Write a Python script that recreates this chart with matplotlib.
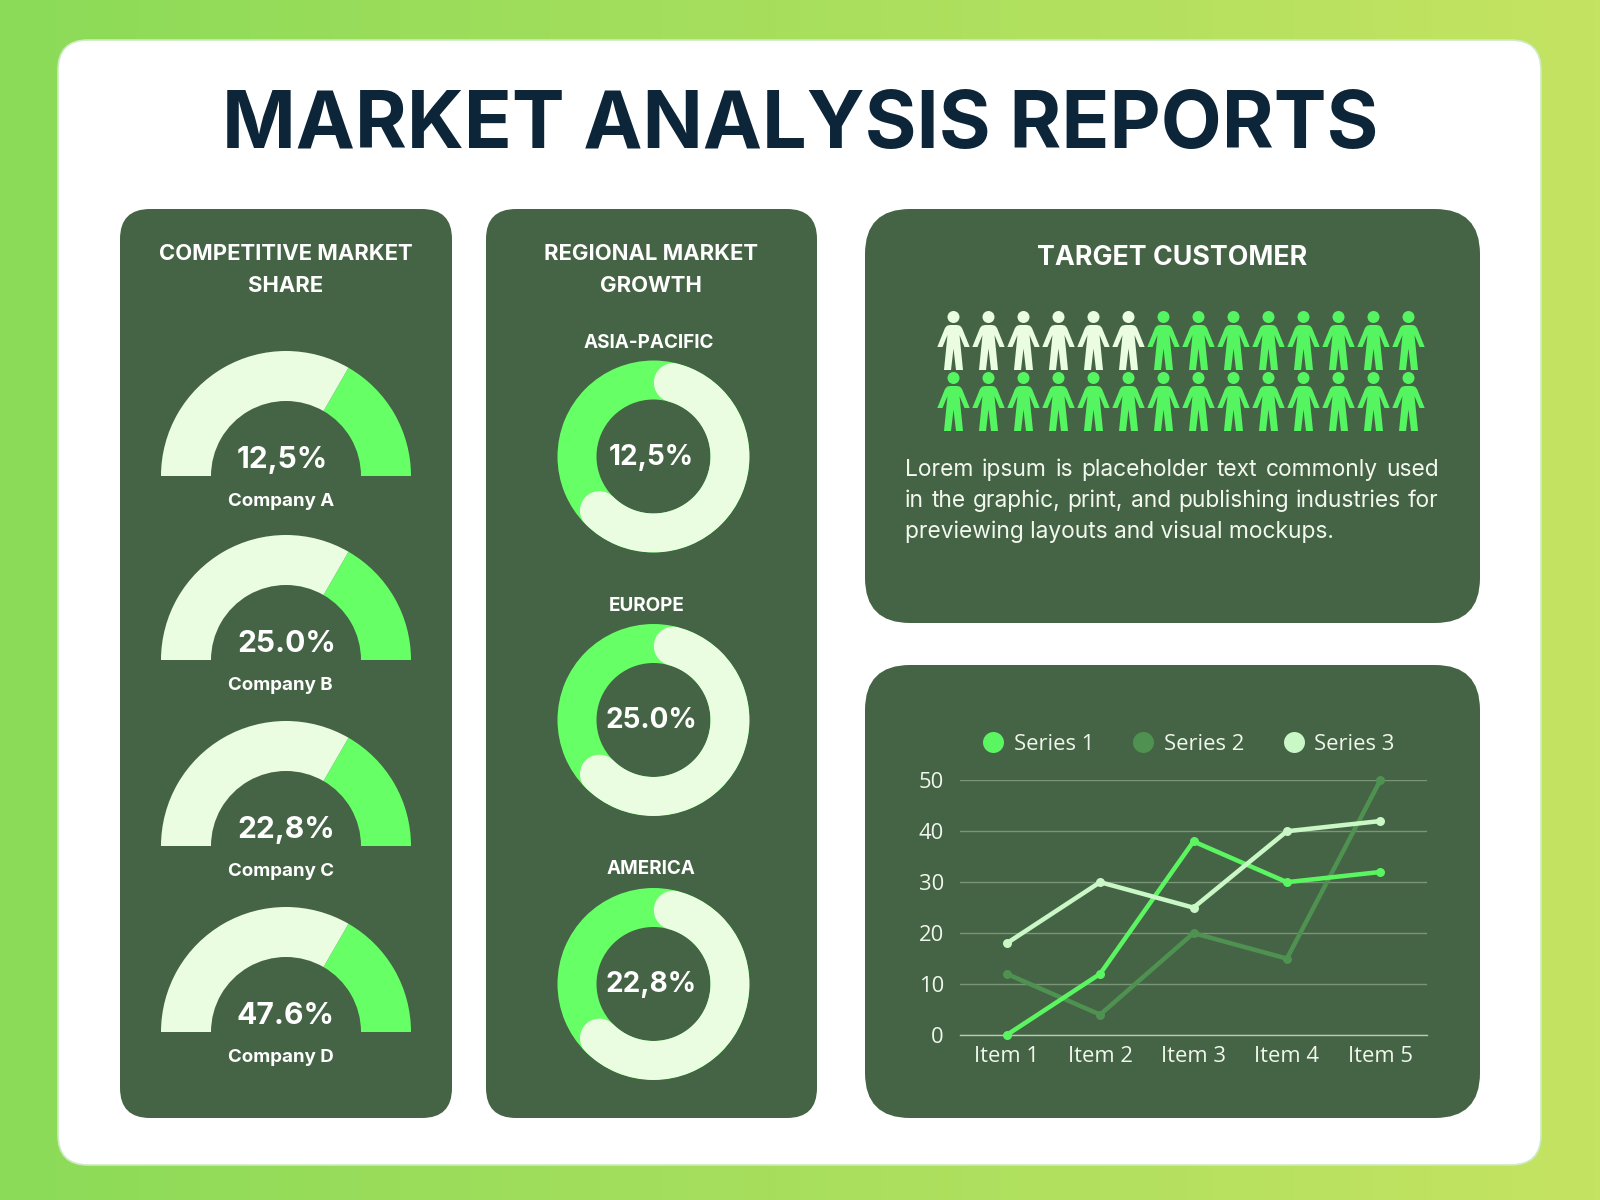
import numpy as np
import matplotlib
matplotlib.use("Agg")
import matplotlib.pyplot as plt
from matplotlib.patches import FancyBboxPatch
from matplotlib.path import Path
from matplotlib.lines import Line2D

W, H = 1600, 1200
DPI = 100

# ---- data ----
title = "MARKET ANALYSIS REPORTS"
gauge_title = "COMPETITIVE MARKET\nSHARE"
gauge_names = ["Company A", "Company B", "Company C", "Company D"]
gauge_labels = ["12,5%", "25.0%", "22,8%", "47.6%"]
gauge_green = [60, 60, 60, 60]
gauge_light = [120, 120, 120, 120]
donut_title = "REGIONAL MARKET\nGROWTH"
donut_names = ["ASIA-PACIFIC", "EUROPE", "AMERICA"]
donut_labels = ["12,5%", "25.0%", "22,8%"]
donut_light_deg = [210, 210, 210]
target_title = "TARGET CUSTOMER"
people_total = 28
people_light = 6
lorem = ["Lorem ipsum is placeholder text commonly used",
         "in the graphic, print, and publishing industries for",
         "previewing layouts and visual mockups."]
items = ["Item 1", "Item 2", "Item 3", "Item 4", "Item 5"]
series1 = [0, 12, 38, 30, 32]
series2 = [12, 4, 20, 15, 50]
series3 = [18, 30, 25, 40, 42]
series_names = ["Series 1", "Series 2", "Series 3"]
y_ticks = [0, 10, 20, 30, 40, 50]

# ---- styles ----
DARK = "#456345"
GREEN = "#66FF66"
LIGHT = "#EAFDE1"
C1, C2, C3 = "#5CF562", "#4F9150", "#C9F7C6"
NAVY = "#0D2538"
FONT = "Inter"

def px(v):
    return v * 72 / DPI

fig = plt.figure(figsize=(W / DPI, H / DPI), dpi=DPI)

def pxaxes(x0, y0, x1, y1, **kw):
    return fig.add_axes([x0 / W, 1 - y1 / H, (x1 - x0) / W, (y1 - y0) / H], **kw)

bg = pxaxes(0, 0, W, H)
bg.set_xlim(0, W); bg.set_ylim(H, 0); bg.axis("off")
c0 = np.array(matplotlib.colors.to_rgb("#8BDB58"))
c1 = np.array(matplotlib.colors.to_rgb("#C5E362"))
t = np.linspace(0, 1, 256)[None, :, None]
bg.imshow(c0 + (c1 - c0) * t, extent=[0, W, H, 0], aspect="auto", zorder=0)

def rbox(x0, y0, x1, y1, r, fc, ec="none", lw=0):
    bg.add_patch(FancyBboxPatch((x0 + r, y0 + r), x1 - x0 - 2 * r, y1 - y0 - 2 * r,
                                boxstyle=f"round,pad={r},rounding_size={r}",
                                fc=fc, ec=ec, lw=lw, zorder=1))

rbox(58, 40, 1541, 1165, 30, "white", "#CDEBC0", 1.2)
rbox(120, 209, 452, 1118, 30, DARK)
rbox(486, 209, 817, 1118, 30, DARK)
rbox(865, 209, 1480, 623, 45, DARK)
rbox(865, 665, 1480, 1118, 45, DARK)

def txt(x, y, s, size, color="white", weight="normal", ha="center", family=FONT, ls=1.2):
    return bg.text(x, y, s, fontsize=px(size), color=color, fontweight=weight, ha=ha,
                   va="center", family=family, linespacing=ls, zorder=5)

txt(800, 127, title, 79.2, NAVY, "bold")
txt(286, 270, gauge_title, 22, "white", "bold", ls=1.7)
txt(651, 270, donut_title, 22, "white", "bold", ls=1.7)
txt(1172, 258, target_title, 26.8, "white", "bold")

# gauges
gauge_y = [476, 660, 846, 1032]
gauge_cx = 286
R, r_in = 125, 75
for base, name, lab, g, l in zip(gauge_y, gauge_names, gauge_labels, gauge_green, gauge_light):
    ax = pxaxes(gauge_cx - R, base - R, gauge_cx + R, base + R)
    ax.pie([g, l, g + l], colors=[GREEN, LIGHT, "none"], startangle=0, radius=1,
           wedgeprops=dict(width=1 - r_in / R, lw=0))
    ax.set_xlim(-1, 1); ax.set_ylim(-1, 1); ax.patch.set_alpha(0)
    txt(237, base - 16, lab, 30, "white", "bold", ha="left")
    txt(227.5, base + 26, name, 18.7, "white", "bold", ha="left")

# donuts
donut_y = [456.5, 720, 984]
donut_cx = 653.5
RD, rd = 96, 57
name_y = [343.5, 606, 869.5]
name_x = [648.5, 646.5, 651]
for cy, nx, ny, name, lab, deg in zip(donut_y, name_x, name_y, donut_names, donut_labels, donut_light_deg):
    ax = pxaxes(donut_cx - RD, cy - RD, donut_cx + RD, cy + RD)
    ax.pie([1], colors=[GREEN], radius=1, wedgeprops=dict(width=1 - rd / RD, lw=0))
    ax.set_xlim(-1, 1); ax.set_ylim(-1, 1); ax.patch.set_alpha(0)
    pa = pxaxes(donut_cx - RD, cy - RD, donut_cx + RD, cy + RD, projection="polar")
    pa.patch.set_alpha(0); pa.axis("off"); pa.set_rlim(0, RD)
    th = np.radians(np.linspace(75, 75 - deg, 200))
    pa.plot(th, np.full_like(th, (RD + rd) / 2), color=LIGHT, lw=px(RD - rd),
            solid_capstyle="round")
    txt(651.5, cy + 1, lab, 28, "white", "bold")
    txt(nx, ny, name, 18.9, "white", "bold")

# pictogram
head = Path.circle((0, 23.5), 6)
half = [(3.5, 15.5), (6.5, 14.8), (8.5, 12.5), (16.2, -6.5), (11, -6.5), (6, 5.5),
        (9.5, -29.5), (2.5, -29.5), (0, -8)]
verts = half + [(-x, y) for x, y in half[-2::-1]] + [half[0]]
body = Path(verts, [Path.MOVETO] + [Path.LINETO] * (len(verts) - 2) + [Path.CLOSEPOLY])
person = Path.make_compound_path(head, body)
ax = pxaxes(930, 300, 1430, 440)
ax.set_xlim(930, 1430); ax.set_ylim(440, 300); ax.axis("off")
ax.patch.set_alpha(0)
per_row = people_total // 2
for i in range(people_total):
    col, row = i % per_row, i // per_row
    ax.plot([953.3 + 35 * col], [339.5 + 61 * row], marker=person, ms=px(59), mew=0,
            color=LIGHT if i < people_light else "#55F562", ls="none")

# lorem text
LSZ = 22.8
for i, line in enumerate(lorem):
    xstart, xend = 905, 1439
    yy = 470 + i * 31
    if i < 2:
        words = line.split(" ")
        tmp = [bg.text(0, 0, w, fontsize=px(LSZ), family=FONT) for w in words]
        rend = fig.canvas.get_renderer()
        widths = [tt.get_window_extent(rend).width for tt in tmp]
        for tt in tmp:
            tt.remove()
        gap = (xend - xstart - sum(widths)) / (len(words) - 1)
        x = xstart
        for w, wd in zip(words, widths):
            txt(x, yy, w, LSZ, ha="left", color="#F2F8EE")
            x += wd + gap
    else:
        txt(xstart, yy, line, LSZ, ha="left", color="#F2F8EE")

# line chart
lc = pxaxes(960, 780.3, 1427, 1035)
lc.patch.set_alpha(0)
xs = np.arange(len(items))
for ser, col, z in ((series2, C2, 3), (series1, C1, 4), (series3, C3, 5)):
    lc.plot(xs, ser, color=col, lw=px(4.5), marker="o", ms=px(9), mew=0, zorder=z, clip_on=False)
lc.set_xlim(-0.5, 4.5); lc.set_ylim(0, 50)
lc.set_xticks(xs, items); lc.set_yticks(y_ticks)
lc.tick_params(length=0, labelcolor="#F0F7EC", labelsize=px(22))
for tl in lc.get_xticklabels() + lc.get_yticklabels():
    tl.set_family("Open Sans")
lc.tick_params(axis="x", pad=px(11))
lc.tick_params(axis="y", pad=px(16))
lc.grid(axis="y", color="#7A9578", lw=1)
lc.set_axisbelow(True)
for s in ("top", "left", "right"):
    lc.spines[s].set_visible(False)
lc.spines["bottom"].set_color("#B9CBB5"); lc.spines["bottom"].set_linewidth(1)

# legend built from series
handles = [Line2D([], [], ls="none", marker="o", ms=px(21), mew=0, color=c) for c in (C1, C2, C3)]
leg = lc.legend(handles, series_names, ncol=3, frameon=False, loc="center",
                bbox_to_anchor=(0.489, 1.14), labelcolor="#F0F7EC",
                prop=dict(family="Open Sans", size=px(22)), handlelength=1,
                columnspacing=1.75, handletextpad=0.43)

fig.savefig("out.png", dpi=DPI)
